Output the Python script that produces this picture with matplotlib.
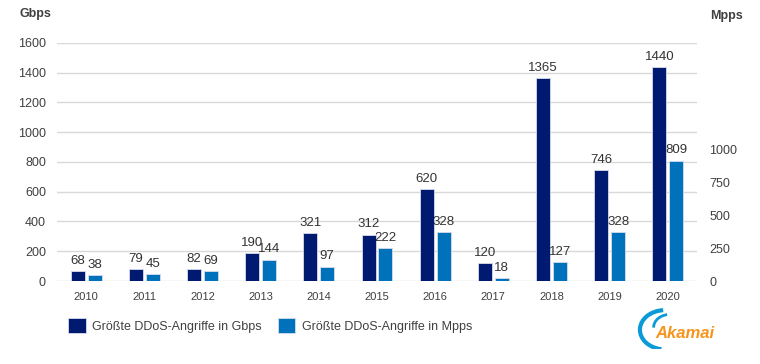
import numpy as np
import matplotlib.pyplot as plt
from matplotlib.patches import Arc

plt.rcParams['font.family'] = ['Liberation Sans', 'DejaVu Sans']

# Daten
jahre = ['2010', '2011', '2012', '2013', '2014', '2015', '2016', '2017', '2018', '2019', '2020']
gbps = [68, 79, 82, 190, 321, 312, 620, 120, 1365, 746, 1440]
mpps = [38, 45, 69, 144, 97, 222, 328, 18, 127, 328, 809]
mpps_ticks = [0, 250, 500, 750, 1000]

dunkel = '#001a72'
hell = '#0072bc'
grau = '#404040'

fig = plt.figure(figsize=(7.6, 3.64), dpi=100)
ax = fig.add_axes([0.075, 0.228, 0.842, 0.654])

x = np.arange(len(jahre))
b = 0.24
ax.bar(x - b / 2 - 0.025, gbps, b, color=dunkel, edgecolor='#d8dce8', linewidth=0.6,
       label='Größte DDoS-Angriffe in Gbps', zorder=3)
ax.bar(x + b / 2 + 0.025, mpps, b, color=hell, edgecolor='#d8dce8', linewidth=0.6,
       label='Größte DDoS-Angriffe in Mpps', zorder=3)

for i in range(len(jahre)):
    ax.annotate(str(gbps[i]), (x[i] - b / 2 - 0.025, gbps[i]), xytext=(0, 3),
                textcoords='offset points', ha='center', va='bottom', fontsize=9.5, color='#333333')
    ax.annotate(str(mpps[i]), (x[i] + b / 2 + 0.025, mpps[i]), xytext=(0, 3),
                textcoords='offset points', ha='center', va='bottom', fontsize=9.5, color='#333333')

ax.set_xlim(-0.5, len(jahre) - 0.5)
ax.set_ylim(0, 1600)
ax.set_yticks(range(0, 1601, 200))
ax.set_xticks(x)
ax.set_xticklabels(jahre, fontsize=8, color=grau)
ax.tick_params(axis='y', labelsize=9, colors=grau, length=0, pad=8)
ax.tick_params(axis='x', length=0, pad=8)
ax.grid(axis='y', color='#d9d9d9', linewidth=1, zorder=0)
for s in ax.spines.values():
    s.set_visible(False)

# rechte Achse (Mpps)
ax2 = ax.twinx()
ax2.set_ylim(0, 1000 * 238 / 131)
ax2.set_yticks(mpps_ticks)
ax2.tick_params(axis='y', labelsize=9, colors=grau, length=0, pad=9)
for s in ax2.spines.values():
    s.set_visible(False)

fig.text(0.026, 0.962, 'Gbps', fontsize=9, fontweight='bold', color=grau, va='center')
fig.text(0.934, 0.955, 'Mpps', fontsize=9, fontweight='bold', color=grau, va='center')

h, l = ax.get_legend_handles_labels()
fig.legend(h, l, loc='center left', bbox_to_anchor=(0.075, 0.105), ncol=2, frameon=False,
           fontsize=9, handlelength=1.4, handleheight=1.5, handletextpad=0.5,
           columnspacing=1.3, labelcolor=grau)

# Akamai-Logo
fig.text(0.901, 0.085, 'Akamai', fontsize=12, fontweight='bold', style='italic',
         color='#f7941d', ha='center', va='center')
lax = fig.add_axes([0.83, 0.04, 0.06, 0.12])
lax.set_xlim(0, 1)
lax.set_ylim(0, 1)
lax.axis('off')
lax.add_patch(Arc((0.75, 0.45), 1.1, 0.9, theta1=95, theta2=260, color='#0a9ad8', lw=3))
lax.add_patch(Arc((0.85, 0.5), 0.7, 0.6, theta1=100, theta2=180, color='#0a9ad8', lw=2))

plt.savefig('out.png', dpi=100)
